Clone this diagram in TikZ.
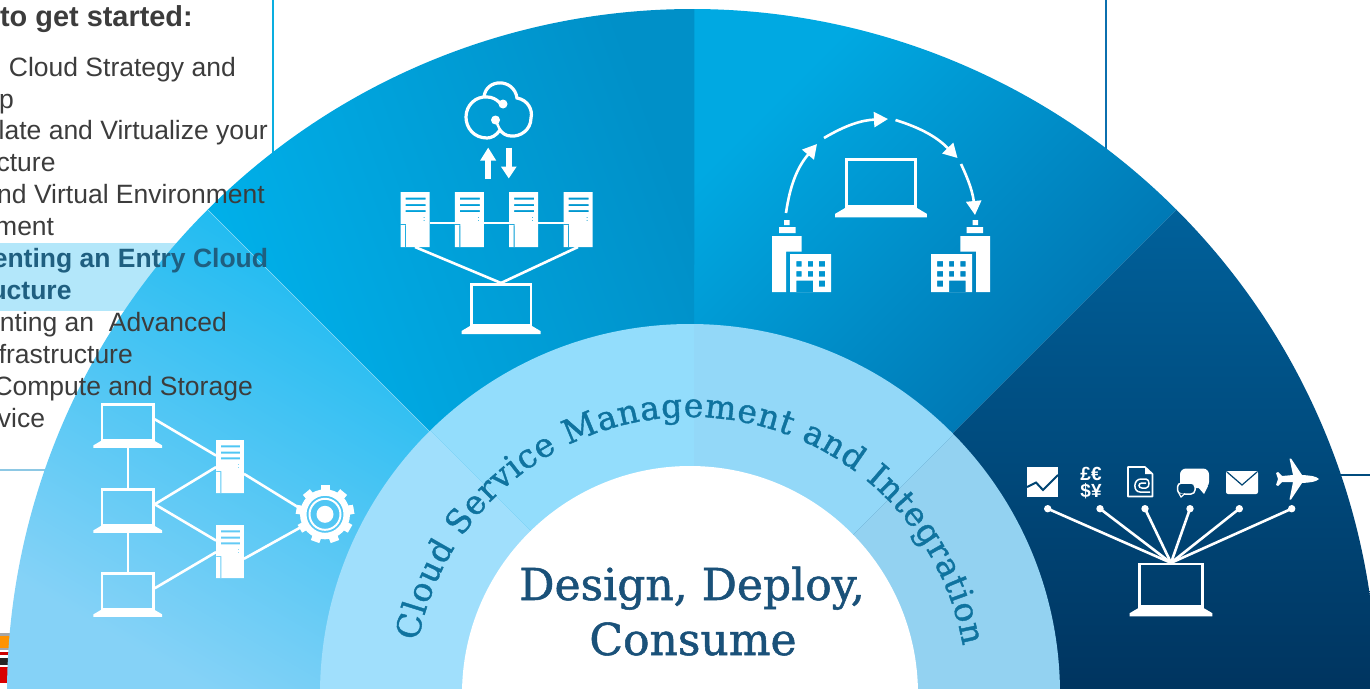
\documentclass[tikz,border=0pt]{standalone}
\usepackage{fontspec}
\setmainfont{Liberation Sans}
\newfontfamily\slabfont[FakeBold=1.2]{DejaVu Serif}
\usetikzlibrary{arrows.meta,decorations.text}
\definecolor{copytxt}{HTML}{3C3C3C}
\definecolor{hilitetxt}{HTML}{1F5F80}
\definecolor{hilitebar}{HTML}{B3E7FA}
\definecolor{slabtxt}{HTML}{1A5179}
\definecolor{ringtxt}{HTML}{0F739F}
\definecolor{rulea}{HTML}{0AAEE0}
\definecolor{ruleb}{HTML}{0B6FAE}
\definecolor{rulec}{HTML}{8DC8E4}
\definecolor{ruled}{HTML}{004B7D}
\definecolor{ringa}{HTML}{A0DFFC}
\definecolor{ringb}{HTML}{93DDFC}
\definecolor{ringc}{HTML}{93D8F8}
\definecolor{ringd}{HTML}{93D2F1}
\definecolor{navybg}{HTML}{004472}
\definecolor{fana}{HTML}{85D2F7}
\definecolor{fanb}{HTML}{7CCFF6}
\definecolor{fanc}{HTML}{00B4EF}
\definecolor{fand}{HTML}{00B6F0}
\definecolor{fanm}{HTML}{00B4EE}
\definecolor{fane}{HTML}{0090C8}
\definecolor{fanf}{HTML}{00A9E2}
\definecolor{fang}{HTML}{005C9A}
\definecolor{fanh}{HTML}{00619B}
\definecolor{fani}{HTML}{00345F}
\tikzset{
  copyline/.style={anchor=base east,inner sep=0pt,text=copytxt,font=\fontsize{26.5}{32}\selectfont},
  hiliteline/.style={copyline,text=hilitetxt,font=\bfseries\fontsize{26.5}{32}\selectfont},
  wire/.style={white,line width=2.6pt},
  bendarrow/.style={white,line width=2.6pt,-{Triangle[length=14pt,width=15pt]}},
  laptop/.pic={
    \draw[white,line width=2.6pt] (-29.8,1.2) rectangle (29.8,41.8);
    \fill[white] (-31,0) -- (31,0) -- (39.5,-5) -- (39.5,-8) -- (-39.5,-8) -- (-39.5,-5) -- cycle;
    \coordinate (-top) at (0,43);
    \coordinate (-bot) at (0,-8);
    \coordinate (-east) at (31,25);
  },
  tower/.pic={
    \fill[white,even odd rule] (-14.5,0) rectangle (14.5,55)
      (-9.5,47.5) rectangle (10.5,49.5) (-9.5,41) rectangle (10.5,43) (-9.5,35) rectangle (10.5,37)
      (-10,0) rectangle (-9,22) (-14.5,22) rectangle (-9,23)
      (8.5,29) rectangle (9.5,30) (8.5,26) rectangle (9.5,27);
    \coordinate (-top) at (0,55);
    \coordinate (-bot) at (0,0);
    \coordinate (-east) at (14.5,20);
    \coordinate (-west) at (-14.5,24);
    \coordinate (-wa) at (-14.5,39);
    \coordinate (-wb) at (-14.5,27);
  },
  building/.pic={
    \fill[white] (0,0) -- (0,56) -- (29.6,56) -- (29.6,40.3) -- (14,40.3) -- (14,0) -- cycle;
    \fill[white,even odd rule] (18,0) rectangle (59,38)
      (24.3,25.3) rectangle (29.6,31) (35.8,25.3) rectangle (41,31) (46.8,25.3) rectangle (53,31)
      (24.3,15.3) rectangle (29.6,21) (35.8,15.3) rectangle (41,21) (46.8,15.3) rectangle (53,21)
      (24.3,0) rectangle (41,11.3) (46.8,5.3) rectangle (53,11.3);
    \fill[white] (7,59) rectangle (23.5,65) (12,67) rectangle (17.5,72);
  },
  gear/.pic={
    \foreach \a in {10,50,...,370}
      \fill[white,rotate=\a] (22,-4.5) rectangle (29,4.5);
    \fill[white,even odd rule] (0,0) circle (25) (0,0) circle (18.5);
    \fill[white,even odd rule] (0,0) circle (16.5) (0,0) circle (14.5);
    \fill[white] (0,0) circle (8.5);
    \coordinate (-wa) at (168:24);
    \coordinate (-wb) at (208:24);
  }
}
\begin{document}
\begin{tikzpicture}[x=1pt,y=1pt]
\useasboundingbox (0,-688) rectangle (1370,0);
\draw[rulea,line width=2.5pt] (273,0) -- (273,-160);
\draw[ruleb,line width=2.5pt] (1106,0) -- (1106,-160);
\draw[rulec,line width=2.5pt] (0,-470) -- (60,-470);
\draw[ruled,line width=2.5pt] (1330,-475) -- (1370,-475);
\fill[hilitebar] (0,-243) rectangle (200,-311);
\fill[gray!70] (0,-632.5) rectangle (14,-650);
\fill[orange!85!yellow] (0,-636) rectangle (14,-648);
\fill[red!80!black] (0,-652) rectangle (14,-655);
\fill[black!85] (0,-658) rectangle (14,-665);
\fill[red!85!black] (0,-667) rectangle (14,-683);

\shade[left color=fana,middle color=fanb,right color=fanc,shading angle=150]
  (692,-694) -- ++(180:685) arc[start angle=180,end angle=135,radius=685] -- cycle;
\shade[left color=fanf,right color=fang,shading angle=45]
  (692,-694) -- ++(90:685) arc[start angle=90,end angle=45,radius=685] -- cycle;
\shade[left color=fand,middle color=fanm,right color=fane,shading angle=110]
  (692,-694) -- ++(135:685) arc[start angle=135,end angle=89.8,radius=685] -- (694,-694) -- cycle;
\shade[top color=fanh,bottom color=fani]
  (692,-694) -- ++(45:685) arc[start angle=45,end angle=0,radius=685] -- cycle;
\coordinate (seama) at (208,-210);
\coordinate (seamb) at (432,-434);
\draw[white,opacity=.5,line width=.5pt] (seama) -- (seamb);

\begin{scope}
\clip (690,-694) circle (370);
\foreach \a/\b/\c in {180/135/ringa,135/90/ringb,90/45/ringc,45/0/ringd}
  \fill[\c] (694,-694) -- ++(\a:420) arc[start angle=\a,end angle=\b,radius=420] -- cycle;
\end{scope}
\fill[white] (690,-694) circle (228);

\path[decorate,decoration={text along path,text align={fit to path},
  text={|\slabfont\fontsize{33}{33}\selectfont\color{ringtxt}|Cloud Service Management and Integration}}]
  (690,-694) ++(169:277) arc[start angle=169,end angle=10,radius=277];
\node[anchor=base,inner sep=0pt,text=slabtxt,font=\slabfont\fontsize{44}{55}\selectfont] (titlea) at (692,-600) {Design, Deploy,};
\node[anchor=base,inner sep=0pt,text=slabtxt,font=\slabfont\fontsize{44}{55}\selectfont] (titleb) at (693,-655) {Consume};

\node[anchor=base east,inner sep=0pt,text=copytxt,font=\bfseries\fontsize{28.9}{32}\selectfont] (head) at (193,-26.7) {to get started:};
\node[copyline] (linea) at (236,-76) {Cloud Strategy and};
\node[copyline] (lineb) at (14,-108) {p};
\node[copyline] (linec) at (268,-139.5) {late and Virtualize your};
\node[copyline] (lined) at (55.7,-171) {cture};
\node[copyline] (linee) at (265,-203) {nd Virtual Environment};
\node[copyline] (linef) at (54.3,-235) {ment};
\node[hiliteline] (lineg) at (268.3,-267) {enting an Entry Cloud};
\node[hiliteline] (lineh) at (71.7,-299) {ucture};
\node[copyline] (linei) at (227,-331) {nting an\ \ Advanced};
\node[copyline] (linej) at (133,-363) {frastructure};
\node[copyline] (linek) at (253,-395) {Compute and Storage};
\node[copyline] (linel) at (45.3,-427) {vice};

\pic (lapA) [scale=.87] at (127.8,-441) {laptop};
\pic (lapB) [scale=.87] at (127.8,-526) {laptop};
\pic (lapC) [scale=.87] at (127.8,-610) {laptop};
\pic (srvA) [scale=.96] at (230,-493) {tower};
\pic (srvB) [scale=.96] at (230,-578) {tower};
\pic (cog) at (325,-514.3) {gear};
\draw[wire] (lapA-bot) -- (lapB-top);
\draw[wire] (lapB-bot) -- (lapC-top);
\draw[wire] (lapA-east) -- (srvA-wa);
\draw[wire] (lapB-east) -- (srvA-wb);
\draw[wire] (lapB-east) -- (srvB-wa);
\draw[wire] (lapC-east) -- (srvB-wb);
\draw[wire] (srvA-east) -- (cog-wa);
\draw[wire] (srvB-east) -- (cog-wb);

\foreach \n/\x in {a/415,b/469.3,c/523.6,d/578}
  \pic (rack\n) at (\x,-247) {tower};
\pic (lapE) at (501,-326) {laptop};
\draw[wire] (racka-east |- racka-west) -- (rackb-west);
\draw[wire] (rackb-east |- rackb-west) -- (rackc-west);
\draw[wire] (rackc-east |- rackc-west) -- (rackd-west);
\draw[wire] (racka-bot) -- (lapE-top);
\draw[wire] (rackd-bot) -- (lapE-top);
\coordinate (upa) at (488.2,-179);
\coordinate (upb) at (488.2,-147.5);
\coordinate (dna) at (508.8,-147.5);
\coordinate (dnb) at (508.8,-178.5);
\draw[white,line width=6.5pt,-{Triangle[length=13pt,width=15pt]}] (upa) -- (upb);
\draw[white,line width=6pt,-{Triangle[length=12pt,width=15pt]}] (dna) -- (dnb);
\draw[white,line width=3.2pt] (484,-97) .. controls (486,-78) and (514,-78) .. (517,-98)
  .. controls (528,-100) and (533,-110) .. (531,-118)
  .. controls (531,-130) and (520,-137) .. (511,-136)
  .. controls (506,-136) and (502,-133) .. (500,-130)
  .. controls (496,-136) and (491,-138) .. (487,-138)
  .. controls (474,-138) and (466,-128) .. (466,-117)
  .. controls (466,-105) and (476,-96) .. (487,-97)
  .. controls (492,-97) and (496,-99) .. (500,-103);
\draw[white,line width=2.5pt] (495.5,-120) -- (500,-130);
\fill[white] (503,-104) circle (4.5) (495.5,-120) circle (4.5);

\pic (lapF) [scale=1.16] at (881,-208) {laptop};
\pic (siteA) at (772,-292) {building};
\pic (siteB) [xscale=-1] at (990,-292) {building};
\coordinate (hopa) at (786,-213);
\coordinate (hopb) at (817,-144);
\coordinate (hopc) at (824,-138);
\coordinate (hopd) at (888,-119);
\coordinate (hope) at (895.5,-120);
\coordinate (hopf) at (957.5,-158);
\coordinate (hopg) at (961,-164);
\coordinate (hoph) at (975,-215);
\draw[bendarrow] (hopa) to[bend left=16] (hopb);
\draw[bendarrow] (hopc) to[bend left=14] (hopd);
\draw[bendarrow] (hope) to[bend left=14] (hopf);
\draw[bendarrow] (hopg) to[bend left=10] (hoph);

\pic (lapG) [scale=1.05] at (1171,-608) {laptop};
\foreach \n/\x in {a/1047.7,b/1100,c/1145,d/1190,e/1239.3,f/1291.7}{
  \coordinate (dot\n) at (\x,-508.7);
  \fill[white] (dot\n) circle (3.7);
  \draw[wire] (dot\n) -- (lapG-top);
}
\fill[white] (1027,-466.7) rectangle (1058,-497.3);
\draw[navybg,line width=2pt] (1027,-487) -- (1036,-482.5) -- (1043,-490) -- (1058,-475);
\node[anchor=base,inner sep=0pt,text=white,font=\bfseries\fontsize{19}{19}\selectfont] (moneya) at (1091,-480) {£€};
\node[anchor=base,inner sep=0pt,text=white,font=\bfseries\fontsize{19}{19}\selectfont] (moneyb) at (1091,-497) {\$¥};
\draw[white,line width=1.6pt,line join=round] (1128,-467) -- (1145,-467) -- (1152.5,-474) -- (1152.5,-496.5) -- (1128,-496.5) -- cycle;
\fill[white] (1145,-467) -- (1152.5,-474) -- (1145,-474) -- cycle;
\draw[white,line width=1.5pt] (1150,-492) -- (1140,-492) .. controls (1133,-492) and (1133,-479) .. (1141,-479)
  -- (1146,-479) .. controls (1150,-479) and (1150,-488) .. (1146,-488) -- (1142,-488)
  .. controls (1138,-488) and (1138,-483) .. (1142,-483) -- (1146,-483);
\fill[white,rounded corners=6pt] (1180,-468.5) rectangle (1209,-488);
\fill[white] (1197,-486) -- (1208,-486) -- (1204,-494) -- cycle;
\draw[white,fill=navybg,line width=1.5pt,rounded corners=4pt] (1177.5,-483) rectangle (1195,-494);
\draw[white,fill=navybg,line width=1.2pt] (1179,-493.5) -- (1181,-497) -- (1185,-493.5);
\fill[white,rounded corners=2pt] (1226,-471) rectangle (1258,-494);
\draw[navybg,line width=1.2pt] (1227,-472) -- (1242,-485) -- (1257,-472);
\fill[white] (1319,-479) .. controls (1316,-476) and (1310,-475.5) .. (1302,-475)
  -- (1291,-458.5) -- (1289.5,-458.5) -- (1293,-475) -- (1282,-476) -- (1278,-472)
  -- (1276,-473) -- (1278,-479) -- (1276,-485) -- (1278,-486) -- (1282,-482)
  -- (1293,-482) -- (1289.5,-499.5) -- (1291,-499.5) -- (1302,-483)
  .. controls (1310,-482.5) and (1316,-482) .. (1319,-479) -- cycle;
\end{tikzpicture}
\end{document}
